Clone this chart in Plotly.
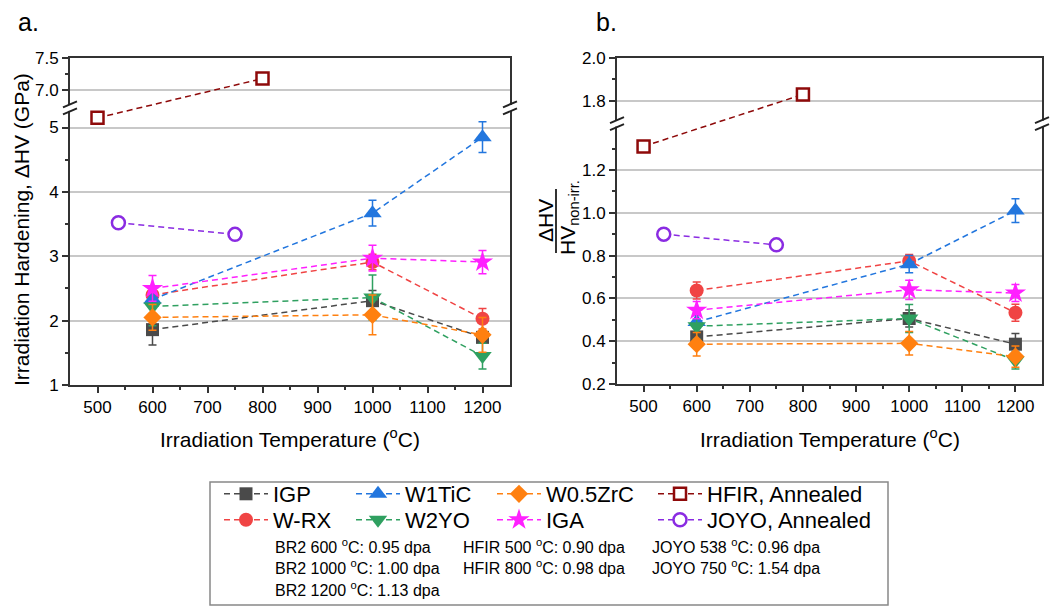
import plotly.graph_objects as go

W, H = 1059, 606
FONT = "Liberation Sans, Arial, sans-serif"

# ---------------- data ----------------
T_BR2 = [600, 1000, 1200]
T_HFIR = [500, 800]
T_JOYO = [538, 750]

# panel a: irradiation hardening (GPa)
A_IGP = [1.86, 2.31, 1.74]
A_IGP_ERR = [0.24, 0.16, 0.06]
A_WRX = [2.40, 2.91, 2.03]
A_WRX_ERR = [0.10, 0.12, 0.16]
A_W1TIC = [2.33, 3.67, 4.85]
A_W1TIC_ERR = [0.10, 0.20, 0.24]
A_W2YO = [2.22, 2.36, 1.45]
A_W2YO_ERR = [0.30, 0.35, 0.20]
A_ZRC = [2.05, 2.09, 1.78]
A_ZRC_ERR = [0.20, 0.31, 0.27]
A_IGA = [2.50, 2.97, 2.91]
A_IGA_ERR = [0.20, 0.20, 0.18]
A_HFIR = [5.15, 7.18]
A_JOYO = [3.52, 3.34]

# panel b: relative hardening
B_IGP = [0.42, 0.506, 0.386]
B_IGP_ERR = [0.05, 0.04, 0.05]
B_WRX = [0.637, 0.775, 0.533]
B_WRX_ERR = [0.04, 0.03, 0.04]
B_W1TIC = [0.49, 0.76, 1.01]
B_W1TIC_ERR = [0.03, 0.04, 0.055]
B_W2YO = [0.47, 0.506, 0.31]
B_W2YO_ERR = [0.06, 0.065, 0.04]
B_ZRC = [0.386, 0.39, 0.328]
B_ZRC_ERR = [0.055, 0.055, 0.05]
B_IGA = [0.545, 0.64, 0.625]
B_IGA_ERR = [0.04, 0.045, 0.04]
B_HFIR = [1.31, 1.83]
B_JOYO = [0.90, 0.85]

X_TICKS = [500, 600, 700, 800, 900, 1000, 1100, 1200]
X_MINOR = [550, 650, 750, 850, 950, 1050, 1150]
A_TICKS = [1, 2, 3, 4, 5, 7.0, 7.5]
A_TICK_TEXT = ["1", "2", "3", "4", "5", "7.0", "7.5"]
A_MINOR = [1.5, 2.5, 3.5, 4.5, 7.25]
B_TICKS = [0.2, 0.4, 0.6, 0.8, 1.0, 1.2, 1.8, 2.0]
B_TICK_TEXT = ["0.2", "0.4", "0.6", "0.8", "1.0", "1.2", "1.8", "2.0"]
B_MINOR = [0.3, 0.5, 0.7, 0.9, 1.1, 1.3, 1.9]

DPA_TEXT = [
    ["BR2 600 <sup>o</sup>C: 0.95 dpa", "BR2 1000 <sup>o</sup>C: 1.00 dpa", "BR2 1200 <sup>o</sup>C: 1.13 dpa"],
    ["HFIR 500 <sup>o</sup>C: 0.90 dpa", "HFIR 800 <sup>o</sup>C: 0.98 dpa"],
    ["JOYO 538 <sup>o</sup>C: 0.96 dpa", "JOYO 750 <sup>o</sup>C: 1.54 dpa"],
]

# ---------------- axis break settings ----------------
# (lower segment top, upper segment bottom, visual gap)
A_BREAK = (5.25, 6.78, 0.11)
B_BREAK = (1.40, 1.71, 0.033)
A_RANGE = (1.0, 7.5)
B_RANGE = (0.2, 2.0)


def brk(vals, b):
    lo, hi, gap = b
    return [v if v <= lo else v - (hi - lo - gap) for v in vals]


def px(x):
    return x / W


def py(y):
    return 1 - y / H


A_XDOM = [px(70), px(510)]
B_XDOM = [px(617), px(1042)]
A_YDOM = [py(385), py(58)]
B_YDOM = [py(384), py(58)]

C_GRAY = "#4a4a4a"
C_RED = "#f04444"
C_BLUE = "#2276de"
C_GREEN = "#2fa060"
C_ORANGE = "#ff8010"
C_MAG = "#ff20ff"
C_HFIR = "#8e0a0a"
C_JOYO = "#8a2be2"

DASH = "6px,4px"

# legend layout: column text x (px) and row centre y (px)
LEG_TEXT_X = [275, 407, 548, 709]
LEG_ROW_Y = [494, 520]
LEG_ITEMWIDTH = 44

fig = go.Figure()

series = [
    ("IGP", A_IGP, A_IGP_ERR, B_IGP, B_IGP_ERR, C_GRAY, "square", 13, 0, 0),
    ("W-RX", A_WRX, A_WRX_ERR, B_WRX, B_WRX_ERR, C_RED, "circle", 14, 0, 1),
    ("W1TiC", A_W1TIC, A_W1TIC_ERR, B_W1TIC, B_W1TIC_ERR, C_BLUE, "triangle-up", 16, 1, 0),
    ("W2YO", A_W2YO, A_W2YO_ERR, B_W2YO, B_W2YO_ERR, C_GREEN, "triangle-down", 16, 1, 1),
    ("W0.5ZrC", A_ZRC, A_ZRC_ERR, B_ZRC, B_ZRC_ERR, C_ORANGE, "diamond", 14, 2, 0),
    ("IGA", A_IGA, A_IGA_ERR, B_IGA, B_IGA_ERR, C_MAG, "star", 16, 2, 1),
]

legend_layouts = {}
legend_common = dict(orientation="v", xanchor="left", yanchor="middle",
                     bgcolor="rgba(0,0,0,0)", borderwidth=0,
                     font=dict(family=FONT, size=22, color="black"),
                     itemwidth=LEG_ITEMWIDTH, tracegroupgap=0, traceorder="normal")


def legend_for(col, row):
    idx = col * 2 + row + 1
    key = "legend" if idx == 1 else "legend%d" % idx
    legend_layouts[key] = dict(legend_common,
                               x=px(LEG_TEXT_X[col] - LEG_ITEMWIDTH - 12),
                               y=py(LEG_ROW_Y[row]))
    return key


for name, ya, ea, yb, eb, col, sym, size, lc, lr in series:
    lg = legend_for(lc, lr)
    for (yv, ev, xa, ya_ref, b, show) in [(ya, ea, "x", "y", A_BREAK, True), (yb, eb, "x2", "y2", B_BREAK, False)]:
        fig.add_trace(go.Scatter(
            x=T_BR2, y=brk(yv, b), name=name, mode="lines+markers",
            xaxis=xa, yaxis=ya_ref, showlegend=show, legend=lg,
            line=dict(color=col, width=1.5, dash=DASH),
            marker=dict(symbol=sym, size=size, color=col, line=dict(width=0)),
            error_y=dict(type="data", array=ev, visible=True, color=col, thickness=1.5, width=4),
        ))

open_series = [
    ("HFIR, Annealed", T_HFIR, A_HFIR, B_HFIR, C_HFIR, "square", 12, 3, 0),
    ("JOYO, Annealed", T_JOYO, A_JOYO, B_JOYO, C_JOYO, "circle", 13, 3, 1),
]
for name, tx, ya, yb, col, sym, size, lc, lr in open_series:
    lg = legend_for(lc, lr)
    for (yv, xa, ya_ref, b, show) in [(ya, "x", "y", A_BREAK, True), (yb, "x2", "y2", B_BREAK, False)]:
        fig.add_trace(go.Scatter(
            x=tx, y=brk(yv, b), name=name, mode="lines+markers",
            xaxis=xa, yaxis=ya_ref, showlegend=show, legend=lg,
            line=dict(color=col, width=1.5, dash=DASH),
            marker=dict(symbol=sym, size=size, color="white", line=dict(width=2.5, color=col)),
        ))

axis_common = dict(
    showline=True, linecolor="#333333", linewidth=2, mirror=True,
    ticks="outside", ticklen=6, tickwidth=1.5, tickcolor="#333333",
    tickfont=dict(family=FONT, size=17, color="black"),
    zeroline=False, automargin=False,
)

xaxis_common = dict(axis_common, range=[450, 1250], tickmode="array", tickvals=X_TICKS,
                    showgrid=False,
                    minor=dict(tickmode="array", tickvals=X_MINOR, ticks="outside", ticklen=3,
                               tickcolor="#333333", showgrid=False))

fig.update_layout(
    xaxis=dict(xaxis_common, domain=A_XDOM, anchor="y"),
    xaxis2=dict(xaxis_common, domain=B_XDOM, anchor="y2"),
    yaxis=dict(axis_common, domain=A_YDOM, anchor="x",
               range=brk(list(A_RANGE), A_BREAK), tickmode="array",
               tickvals=brk(A_TICKS, A_BREAK), ticktext=A_TICK_TEXT,
               showgrid=True, gridcolor="#c8c8c8", gridwidth=1.5,
               minor=dict(tickmode="array", tickvals=brk(A_MINOR, A_BREAK), ticks="outside",
                          ticklen=3, tickcolor="#333333", showgrid=False)),
    yaxis2=dict(axis_common, domain=B_YDOM, anchor="x2",
                range=brk(list(B_RANGE), B_BREAK), tickmode="array",
                tickvals=brk(B_TICKS, B_BREAK), ticktext=B_TICK_TEXT,
                showgrid=True, gridcolor="#c8c8c8", gridwidth=1.5,
                minor=dict(tickmode="array", tickvals=brk(B_MINOR, B_BREAK), ticks="outside",
                           ticklen=3, tickcolor="#333333", showgrid=False)),
)

# ---------------- axis break decorations ----------------
shapes = []


def yaxis_to_paper(v, rng, dom):
    return dom[0] + (v - rng[0]) / (rng[1] - rng[0]) * (dom[1] - dom[0])


for b, rng, ydom, xdom in [(A_BREAK, A_RANGE, A_YDOM, A_XDOM), (B_BREAK, B_RANGE, B_YDOM, B_XDOM)]:
    lo, hi, gap = b
    trng = brk(list(rng), b)
    y_lo = yaxis_to_paper(lo, trng, ydom)
    y_hi = yaxis_to_paper(lo + gap, trng, ydom)
    for xe in xdom:
        shapes.append(dict(type="rect", xref="paper", yref="paper",
                           x0=xe - 4 / W, x1=xe + 4 / W, y0=y_lo + 0.5 / H, y1=y_hi - 0.5 / H,
                           fillcolor="white", line=dict(width=0), layer="above"))
        for yy in (y_lo, y_hi):
            shapes.append(dict(type="line", xref="paper", yref="paper",
                               x0=xe - 7 / W, x1=xe + 7 / W, y0=yy - 3 / H, y1=yy + 3 / H,
                               line=dict(color="#222222", width=2), layer="above"))

# legend frame
shapes.append(dict(type="rect", xref="paper", yref="paper",
                   x0=px(210), x1=px(888), y0=py(605), y1=py(482),
                   line=dict(color="#888888", width=1.5), fillcolor="rgba(0,0,0,0)"))
# fraction bar for panel b title
shapes.append(dict(type="line", xref="paper", yref="paper",
                   x0=px(556), x1=px(556), y0=py(253), y1=py(189),
                   line=dict(color="#333333", width=2)))

annotations = []
title_font = dict(family=FONT, size=21, color="black")
for xc in [(A_XDOM[0] + A_XDOM[1]) / 2, (B_XDOM[0] + B_XDOM[1]) / 2]:
    annotations.append(dict(text="Irradiation Temperature (<sup>o</sup>C)", x=xc, y=py(438),
                            xref="paper", yref="paper", showarrow=False, font=title_font,
                            xanchor="center", yanchor="middle"))
annotations.append(dict(text="Irradiation Hardening, ΔHV (GPa)", x=px(21), y=py(230),
                        xref="paper", yref="paper", showarrow=False, font=title_font,
                        textangle=-90, xanchor="center", yanchor="middle"))
annotations.append(dict(text="ΔHV", x=px(545), y=py(221),
                        xref="paper", yref="paper", showarrow=False, font=title_font,
                        textangle=-90, xanchor="center", yanchor="middle"))
annotations.append(dict(text="HV<sub>non-irr.</sub>", x=px(569), y=py(218),
                        xref="paper", yref="paper", showarrow=False, font=title_font,
                        textangle=-90, xanchor="center", yanchor="middle"))
annotations.append(dict(text="a.", x=px(16), y=py(22), xref="paper", yref="paper",
                        showarrow=False, font=dict(family=FONT, size=25, color="black"),
                        xanchor="left", yanchor="middle"))
annotations.append(dict(text="b.", x=px(594), y=py(22), xref="paper", yref="paper",
                        showarrow=False, font=dict(family=FONT, size=25, color="black"),
                        xanchor="left", yanchor="middle"))

dpa_cols = [273, 461, 650]
dpa_rows = [546, 567, 589]
for ci, col_texts in enumerate(DPA_TEXT):
    for ri, t in enumerate(col_texts):
        annotations.append(dict(text=t, x=px(dpa_cols[ci]), y=py(dpa_rows[ri]),
                                xref="paper", yref="paper", showarrow=False,
                                font=dict(family=FONT, size=16, color="black"),
                                xanchor="left", yanchor="middle"))

fig.update_layout(
    width=W, height=H,
    margin=dict(l=0, r=0, t=0, b=0, pad=0, autoexpand=False),
    paper_bgcolor="white", plot_bgcolor="white",
    font=dict(family=FONT, color="black"),
    shapes=shapes, annotations=annotations,
    **legend_layouts,
)

fig.write_html("out.html", config={"displayModeBar": False},
               post_script="document.body.style.margin='0px';")
